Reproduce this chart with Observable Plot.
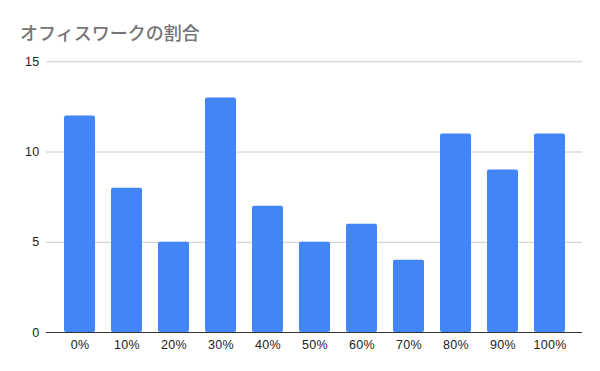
<!DOCTYPE html>
<html><head><meta charset="utf-8">
<script src="https://cdn.jsdelivr.net/npm/d3@7"></script>
<script src="https://cdn.jsdelivr.net/npm/@observablehq/plot@0.6"></script>
<style>
body{margin:0;background:#fff;}
#wrap{width:600px;height:371px;position:relative;overflow:hidden;}
#title{position:absolute;left:20px;top:19px;font-family:"Noto Sans CJK JP","Noto Sans",sans-serif;font-size:18px;font-weight:500;color:#757575;line-height:26px;}
#chart{position:absolute;left:0;top:50px;}
</style></head>
<body><div id="wrap"><div id="title">オフィスワークの割合</div><div id="chart"></div></div>
<script>
const categories = ["0%","10%","20%","30%","40%","50%","60%","70%","80%","90%","100%"];
const values = [12, 8, 5, 13, 7, 5, 6, 4, 11, 9, 11];
const yTicks = [0, 5, 10, 15];
const data = categories.map((c, i) => ({cat: c, val: values[i]}));

const chart = Plot.plot({
  width: 600,
  height: 321,
  marginTop: 11.3,
  marginBottom: 39,
  marginLeft: 46,
  marginRight: 18,
  style: {fontFamily: "'Liberation Sans', Arial, sans-serif", fontSize: "12.5px", color: "#222", background: "#fff", letterSpacing: "0.3px"},
  x: {domain: categories, range: [53.7, 574], paddingInner: 0.35, paddingOuter: 0.175, label: null},
  y: {domain: [0, 15], label: null},
  marks: [
    Plot.gridY(yTicks, {stroke: "#cccccc", strokeOpacity: 1, strokeWidth: 1}),
    Plot.axisY(yTicks, {tickSize: 0, tickPadding: 7, label: null, fontSize: 12.5}),
    Plot.axisX({tickSize: 0, tickPadding: 8, label: null, fontSize: 12.5}),
    Plot.barY(data, {x: "cat", y: "val", fill: "#4285f4", rx: 2}),
    Plot.ruleY([0], {stroke: "#333", strokeWidth: 1})
  ]
});
document.getElementById("chart").appendChild(chart);
</script></body></html>
